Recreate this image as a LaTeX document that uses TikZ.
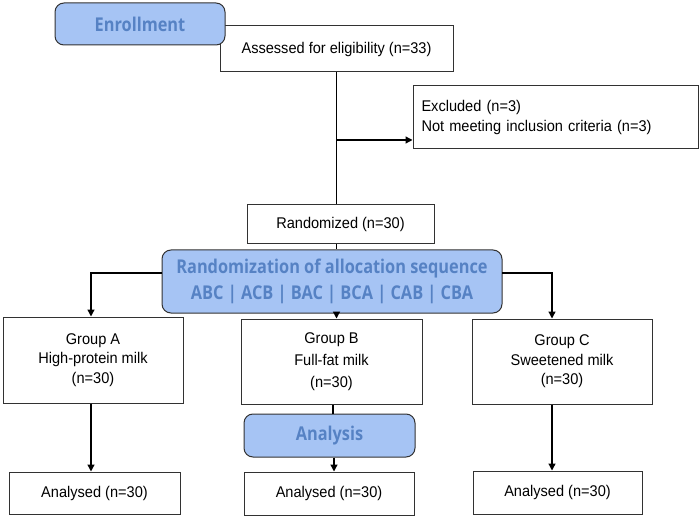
\documentclass[tikz,border=0pt]{standalone}
\usepackage{fontspec}
\setmainfont[FakeStretch=0.94]{Liberation Sans}
\newfontfamily\hdfont[FakeStretch=0.86]{Open Sans}
\usetikzlibrary{arrows.meta}
\definecolor{hfill}{RGB}{166,196,244}
\definecolor{htext}{RGB}{86,130,196}
\definecolor{bord}{RGB}{50,50,50}
\tikzset{
  box/.style={draw=bord, line width=1pt, fill=white, inner sep=0pt, align=center,
    font=\fontsize{15.5}{19.5}\selectfont},
  hbox/.style={draw=bord, line width=1pt, fill=hfill, rounded corners=9pt, inner sep=0pt,
    align=center, text=htext, font=\hdfont\bfseries\fontsize{19}{26}\selectfont},
  conn/.style={line width=1.3pt, black},
  arr/.style={conn, -{Triangle[width=7pt,length=7pt]}}
}
\begin{document}
\begin{tikzpicture}[x=1pt,y=-1pt]
\useasboundingbox (0,0) rectangle (700,518);
% enrollment
\node[box, minimum width=233, minimum height=46] (ass) at (336.5,49) {Assessed for eligibility (n=33)};
\node[hbox, minimum width=170, minimum height=42] (enr) at (140,24) {Enrollment};
\node[box, minimum width=285, minimum height=63, align=left, text width=268] (exc) at (555.5,117.5)
  {Excluded (n=3)\\Not meeting inclusion criteria (n=3)};
\node[box, minimum width=187, minimum height=39] (rnd) at (340.5,224.5) {Randomized (n=30)};
\node[hbox, minimum width=340, minimum height=63] (seq) at (332,281.5)
  {Randomization of allocation sequence\\ABC | ACB | BAC | BCA | CAB | CBA};
% groups
\node[box, minimum width=180, minimum height=86] (ga) at (93,360) {Group A\\High-protein milk\\(n=30)};
\node[box, minimum width=181, minimum height=85, font=\fontsize{15.5}{22}\selectfont] (gb) at (331.5,361.5) {Group B\\Full-fat milk\\(n=30)};
\node[box, minimum width=180, minimum height=85] (gc) at (562,361.5) {Group C\\Sweetened milk\\(n=30)};
\node[hbox, minimum width=171, minimum height=43] (ana) at (329.5,435.5) {Analysis};
\node[box, minimum width=171, minimum height=42] (aa) at (94.5,493) {Analysed (n=30)};
\node[box, minimum width=170, minimum height=43] (ab) at (329,493.5) {Analysed (n=30)};
\node[box, minimum width=169, minimum height=43] (ac) at (557.5,492.5) {Analysed (n=30)};
% connectors
\coordinate (j1) at (337,140);
\coordinate (jl) at (162,273);
\coordinate (jr) at (502,273);
\draw[conn] (ass.south) -- (ass.south |- rnd.north);
\draw[arr] (j1) -- (exc.west |- j1);
\draw[conn] (rnd.south -| ass.south) -- (seq.north -| ass.south);
\draw[arr] (jl) -| ([xshift=-2]ga.north);
\draw[arr] (jr) -| ([xshift=-10]gc.north);
\draw[arr] (seq.south -| ass.south) -- (gb.north -| ass.south);
\draw[arr] ([xshift=-2]ga.south) -- ([xshift=-2]ga.south |- aa.north);
\draw[conn] ([xshift=1.5]gb.south) -- ([xshift=1.5]gb.south |- ana.north);
\draw[arr] ([xshift=4.5]ana.south) -- ([xshift=4.5]ana.south |- ab.north);
\draw[arr] ([xshift=-10]gc.south) -- ([xshift=-10]gc.south |- ac.north);
\end{tikzpicture}
\end{document}
